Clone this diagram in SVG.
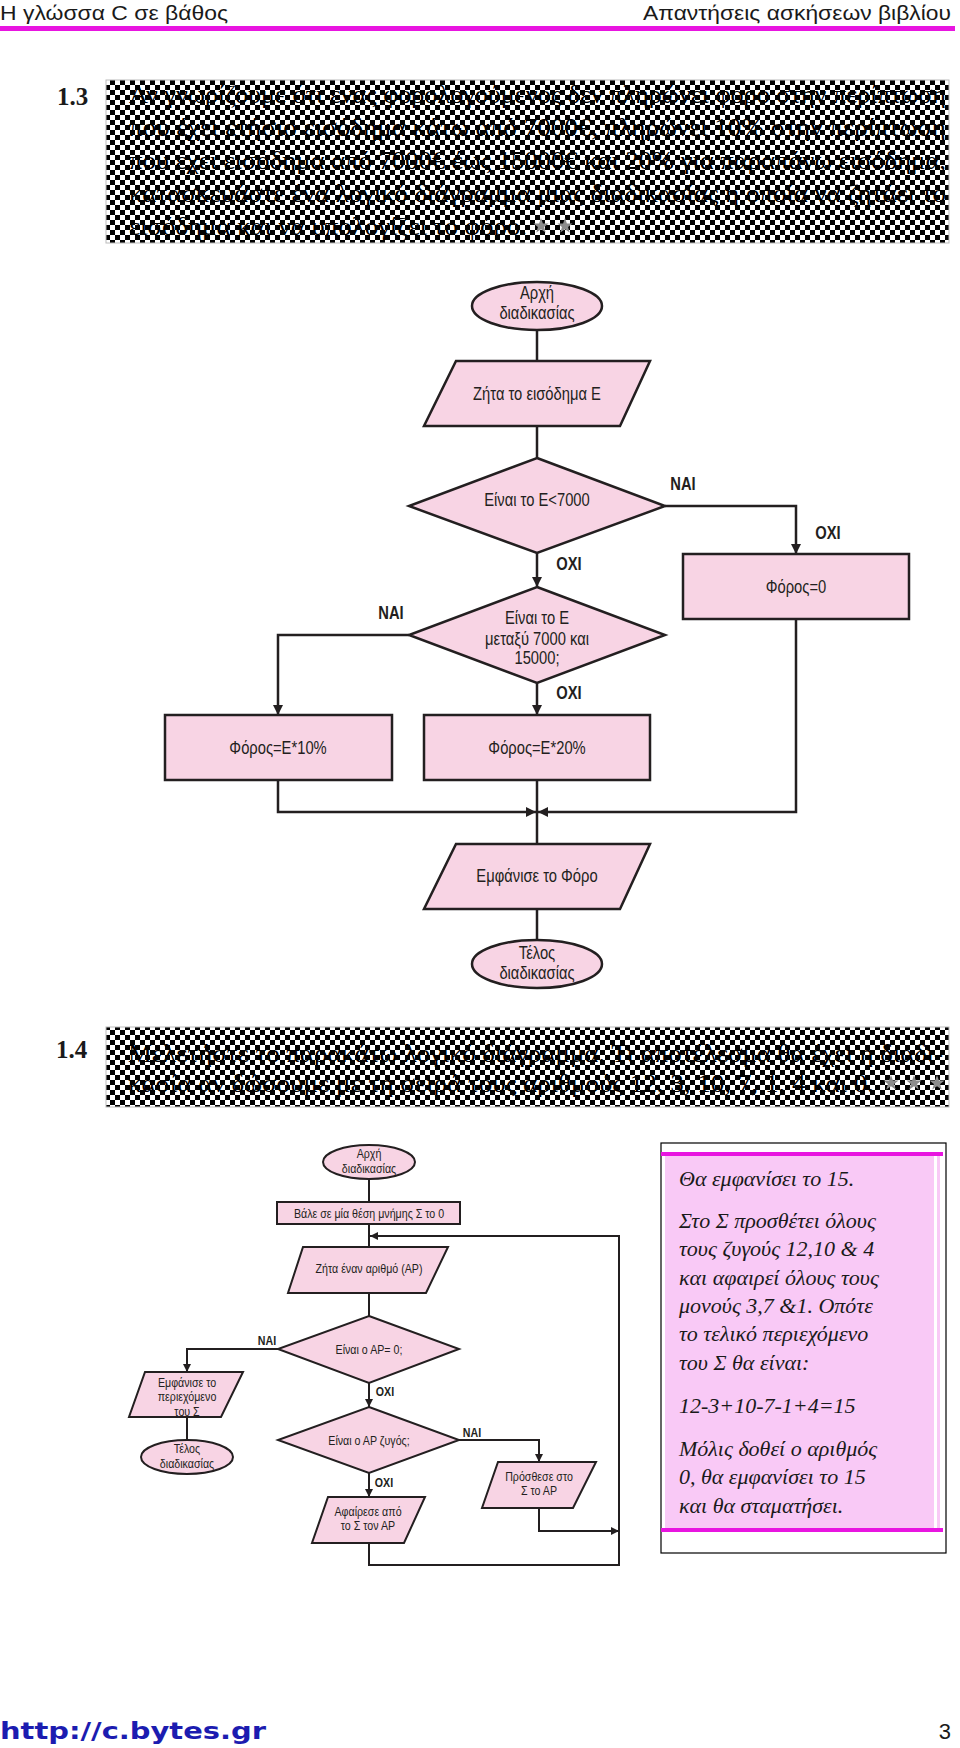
<svg xmlns="http://www.w3.org/2000/svg" xmlns:xlink="http://www.w3.org/1999/xlink" width="960" height="1748" viewBox="0 0 960 1748">
<defs>
<style>
.hdr{font-family:"Liberation Sans",Arial,sans-serif;font-size:21px;fill:#1a1a1a}
.num{font-family:"Liberation Serif","Times New Roman",serif;font-size:25px;font-weight:bold;fill:#1a1a1a}
.q{font-family:"Liberation Serif","Times New Roman",serif;font-size:26px;fill:#000}
.shape{fill:#f8d4e4;stroke:#231f20;stroke-width:2.5}
.shape2{fill:#f8d4e4;stroke:#231f20;stroke-width:2}
.t1{font-family:"Liberation Sans",Arial,sans-serif;font-size:18px;fill:#231f20;text-anchor:middle;transform-box:fill-box;transform-origin:center;transform:scaleX(0.82)}
.l1{font-family:"Liberation Sans",Arial,sans-serif;font-size:18px;font-weight:bold;fill:#231f20;text-anchor:middle;transform-box:fill-box;transform-origin:center;transform:scaleX(0.82)}
.t2{font-family:"Liberation Sans",Arial,sans-serif;font-size:13px;fill:#231f20;text-anchor:middle;transform-box:fill-box;transform-origin:center;transform:scaleX(0.82)}
.l2{font-family:"Liberation Sans",Arial,sans-serif;font-size:13px;font-weight:bold;fill:#231f20;text-anchor:middle;transform-box:fill-box;transform-origin:center;transform:scaleX(0.82)}
.c1{fill:none;stroke:#231f20;stroke-width:2.5}
.c2{fill:none;stroke:#231f20;stroke-width:2}
.note{font-family:"Liberation Serif","Times New Roman",serif;font-size:22px;font-style:italic;fill:#1a1a1a}
.star{fill:#8c8c8c}
</style>
<pattern id="chk" width="10" height="10" patternUnits="userSpaceOnUse">
<rect width="10" height="10" fill="#fff"/>
<rect width="5" height="5" fill="#000"/>
<rect x="5" y="5" width="5" height="5" fill="#000"/>
</pattern>
<marker id="ah1" viewBox="0 0 10 10" refX="10" refY="5" markerWidth="10" markerHeight="10" markerUnits="userSpaceOnUse" orient="auto">
<path d="M0,0 L10,5 L0,10 z" fill="#231f20"/>
</marker>
<marker id="ah2" viewBox="0 0 10 10" refX="10" refY="5" markerWidth="8" markerHeight="8" markerUnits="userSpaceOnUse" orient="auto">
<path d="M0,0 L10,5 L0,10 z" fill="#231f20"/>
</marker>
<polygon id="star" points="0,-8 1.88,-2.59 7.61,-2.47 3.04,0.99 4.7,6.47 0,3.2 -4.7,6.47 -3.04,0.99 -7.61,-2.47 -1.88,-2.59"/>
</defs>
<rect width="960" height="1748" fill="#fff"/>

<g id="header">
<text class="hdr" x="0" y="20" textLength="228" lengthAdjust="spacingAndGlyphs">Η γλώσσα C σε βάθος</text>
<text class="hdr" x="951" y="20" text-anchor="end" textLength="308" lengthAdjust="spacingAndGlyphs">Απαντήσεις ασκήσεων βιβλίου</text>
<rect x="0" y="26" width="955" height="5" fill="#e815e0"/>
</g>

<g id="q13">
<text class="num" x="57" y="105">1.3</text>
<rect x="106" y="80" width="843" height="163" fill="url(#chk)" stroke="#bbb" stroke-width="1"/>
<text class="q" x="129" y="103" textLength="817" lengthAdjust="spacingAndGlyphs">Αν γνωρίζουμε ότι ένας φορολογούμενος δεν πληρώνει φόρο στην περίπτωση</text>
<text class="q" x="129" y="136" textLength="817" lengthAdjust="spacingAndGlyphs">που έχει ετήσιο εισόδημα κάτω από 7000€, πληρώνει 10% στην περίπτωση</text>
<text class="q" x="129" y="169" textLength="817" lengthAdjust="spacingAndGlyphs">που έχει εισόδημα από 7000€ έως 15000€ και 20% για παραπάνω εισόδημα,</text>
<text class="q" x="129" y="202" textLength="817" lengthAdjust="spacingAndGlyphs">κατασκευάστε ένα λογικό διάγραμμα μιας διαδικασίας η οποία να ζητάει το</text>
<text class="q" x="129" y="235" textLength="398" lengthAdjust="spacingAndGlyphs">εισόδημα και να υπολογίζει το φόρο.</text>
<use xlink:href="#star" class="star" x="541" y="226"/>
<use xlink:href="#star" class="star" x="565" y="226"/>
</g>

<g id="connectors">
<path class="c1" d="M537,330 V361"/>
<path class="c1" d="M537,426 V458"/>
<path class="c1" d="M665,506 H796 V554" marker-end="url(#ah1)"/>
<path class="c1" d="M537,553 V587" marker-end="url(#ah1)"/>
<path class="c1" d="M409,635 H278 V715" marker-end="url(#ah1)"/>
<path class="c1" d="M537,683 V715" marker-end="url(#ah1)"/>
<path class="c1" d="M796,619 V812 H538" marker-end="url(#ah1)"/>
<path class="c1" d="M278,780 V812 H536" marker-end="url(#ah1)"/>
<path class="c1" d="M537,780 V844"/>
<path class="c1" d="M537,909 V940"/>

<path class="c2" d="M369,1179 V1202"/>
<path class="c2" d="M369,1224 V1247"/>
<path class="c2" d="M369,1293 V1316"/>
<path class="c2" d="M278,1349 H187 V1372" marker-end="url(#ah2)"/>
<path class="c2" d="M187,1417 V1440"/>
<path class="c2" d="M369,1383 V1407" marker-end="url(#ah2)"/>
<path class="c2" d="M459,1440 H539 V1462" marker-end="url(#ah2)"/>
<path class="c2" d="M369,1473 V1497" marker-end="url(#ah2)"/>
<path class="c2" d="M539,1508 V1531 H619" marker-end="url(#ah2)"/>
<path class="c2" d="M369,1543 V1565 H619 V1236 H370" marker-end="url(#ah2)"/>
</g>

<g id="labels1">
<text class="l1" x="683" y="490">ΝΑΙ</text>
<text class="l1" x="828" y="539">ΟΧΙ</text>
<text class="l1" x="569" y="570">ΟΧΙ</text>
<text class="l1" x="391" y="619">ΝΑΙ</text>
<text class="l1" x="569" y="699">ΟΧΙ</text>
</g>

<g id="start1">
<ellipse class="shape" cx="537" cy="306" rx="65" ry="24"/>
<text class="t1" x="537" y="299">Αρχή</text>
<text class="t1" x="537" y="319">διαδικασίας</text>
</g>
<g id="input1">
<polygon class="shape" points="456,361 650,361 620,426 424,426"/>
<text class="t1" x="537" y="400">Ζήτα το εισόδημα Ε</text>
</g>
<g id="dec1">
<polygon class="shape" points="537,458 665,506 537,553 409,506"/>
<text class="t1" x="537" y="506">Είναι το Ε&lt;7000</text>
</g>
<g id="tax0">
<rect class="shape" x="683" y="554" width="226" height="65"/>
<text class="t1" x="796" y="593">Φόρος=0</text>
</g>
<g id="dec2">
<polygon class="shape" points="537,587 665,635 537,683 409,635"/>
<text class="t1" x="537" y="624">Είναι το Ε</text>
<text class="t1" x="537" y="645">μεταξύ 7000 και</text>
<text class="t1" x="537" y="664">15000;</text>
</g>
<g id="tax10">
<rect class="shape" x="165" y="715" width="227" height="65"/>
<text class="t1" x="278" y="754">Φόρος=Ε*10%</text>
</g>
<g id="tax20">
<rect class="shape" x="424" y="715" width="226" height="65"/>
<text class="t1" x="537" y="754">Φόρος=Ε*20%</text>
</g>
<g id="out1">
<polygon class="shape" points="456,844 650,844 620,909 424,909"/>
<text class="t1" x="537" y="882">Εμφάνισε το Φόρο</text>
</g>
<g id="end1">
<ellipse class="shape" cx="537" cy="964" rx="65" ry="24"/>
<text class="t1" x="537" y="959">Τέλος</text>
<text class="t1" x="537" y="979">διαδικασίας</text>
</g>

<g id="q14">
<text class="num" x="56" y="1058">1.4</text>
<rect x="106" y="1027" width="843" height="80" fill="url(#chk)" stroke="#bbb" stroke-width="1"/>
<text class="q" x="128" y="1062" textLength="815" lengthAdjust="spacingAndGlyphs">Μελετήστε το παρακάτω λογικό διάγραμμα. Τι αποτέλεσμα θα έχει η διαδι-</text>
<text class="q" x="128" y="1092" textLength="746" lengthAdjust="spacingAndGlyphs">κασία αν δώσουμε με τη σειρά τους αριθμούς 12, 3, 10, 7, 1, 4 και 0.</text>
<use xlink:href="#star" class="star" x="891" y="1083"/>
<use xlink:href="#star" class="star" x="914" y="1083"/>
<use xlink:href="#star" class="star" x="937" y="1083"/>
</g>

<g id="labels2">
<text class="l2" x="267" y="1345">ΝΑΙ</text>
<text class="l2" x="385" y="1396">ΟΧΙ</text>
<text class="l2" x="472" y="1437">ΝΑΙ</text>
<text class="l2" x="384" y="1487">ΟΧΙ</text>
</g>

<g id="start2">
<ellipse class="shape2" cx="369" cy="1162" rx="46" ry="17"/>
<text class="t2" x="369" y="1158">Αρχή</text>
<text class="t2" x="369" y="1173">διαδικασίας</text>
</g>
<g id="init2">
<rect class="shape2" x="277" y="1202" width="183" height="22"/>
<text class="t2" x="369" y="1218">Βάλε σε μία θέση μνήμης Σ το 0</text>
</g>
<g id="input2">
<polygon class="shape2" points="303,1247 448,1247 426,1293 288,1293"/>
<text class="t2" x="369" y="1273">Ζήτα έναν αριθμό (ΑΡ)</text>
</g>
<g id="dec3">
<polygon class="shape2" points="369,1316 459,1349 369,1383 278,1349"/>
<text class="t2" x="369" y="1354">Είναι ο ΑΡ= 0;</text>
</g>
<g id="out2">
<polygon class="shape2" points="145,1372 243,1372 221,1417 129,1417"/>
<text class="t2" x="187" y="1387">Εμφάνισε το</text>
<text class="t2" x="187" y="1401">περιεχόμενο</text>
<text class="t2" x="187" y="1416">του Σ</text>
</g>
<g id="end2">
<ellipse class="shape2" cx="187" cy="1457" rx="46" ry="17"/>
<text class="t2" x="187" y="1453">Τέλος</text>
<text class="t2" x="187" y="1468">διαδικασίας</text>
</g>
<g id="dec4">
<polygon class="shape2" points="369,1407 459,1440 369,1473 278,1440"/>
<text class="t2" x="369" y="1445">Είναι ο ΑΡ ζυγός;</text>
</g>
<g id="add2">
<polygon class="shape2" points="498,1462 596,1462 573,1508 482,1508"/>
<text class="t2" x="539" y="1481">Πρόσθεσε στο</text>
<text class="t2" x="539" y="1495">Σ το ΑΡ</text>
</g>
<g id="sub2">
<polygon class="shape2" points="328,1497 425,1497 404,1543 312,1543"/>
<text class="t2" x="368" y="1516">Αφαίρεσε από</text>
<text class="t2" x="368" y="1530">το Σ τον ΑΡ</text>
</g>

<g id="answer">
<rect x="661" y="1143" width="285" height="410" fill="#fff" stroke="#000" stroke-width="1.2"/>
<rect x="665" y="1156" width="275" height="374" fill="#f9c9f6"/>
<rect x="934" y="1156" width="3" height="374" fill="#fff"/>
<rect x="661" y="1152" width="282" height="4" fill="#e815e0"/>
<rect x="661" y="1528" width="282" height="4" fill="#e815e0"/>
<text class="note" x="679" y="1186">Θα εμφανίσει το 15.</text>
<text class="note" x="679" y="1228">Στο Σ προσθέτει όλους</text>
<text class="note" x="679" y="1256">τους ζυγούς 12,10 &amp; 4</text>
<text class="note" x="679" y="1285">και αφαιρεί όλους τους</text>
<text class="note" x="679" y="1313">μονούς 3,7 &amp;1. Οπότε</text>
<text class="note" x="679" y="1341">το τελικό περιεχόμενο</text>
<text class="note" x="679" y="1370">του Σ θα είναι:</text>
<text class="note" x="679" y="1413">12-3+10-7-1+4=15</text>
<text class="note" x="679" y="1456">Μόλις δοθεί ο αριθμός</text>
<text class="note" x="679" y="1484">0, θα εμφανίσει το 15</text>
<text class="note" x="679" y="1513">και θα σταματήσει.</text>
</g>

<g id="footer">
<text x="0" y="1739" font-family="'DejaVu Sans',Verdana,sans-serif" font-size="23" font-weight="bold" fill="#1c1cb0" textLength="266" lengthAdjust="spacingAndGlyphs">http://c.bytes.gr</text>
<text x="951" y="1739" text-anchor="end" font-family="'Liberation Sans',Arial,sans-serif" font-size="22" fill="#1a1a1a">3</text>
</g>
</svg>
